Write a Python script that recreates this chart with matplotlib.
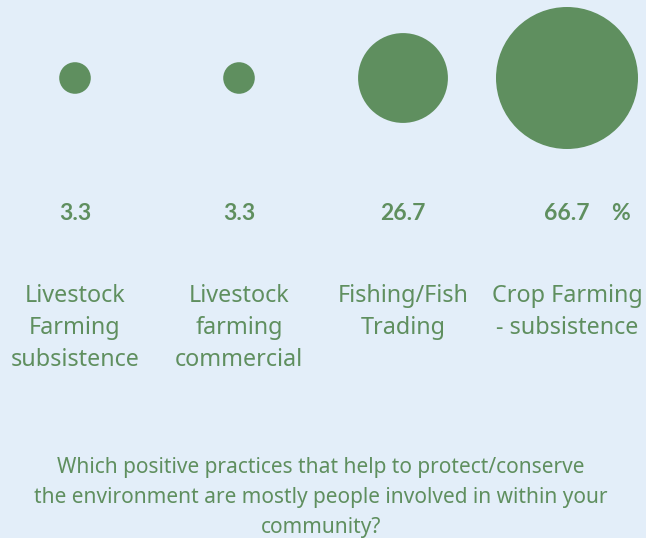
import numpy as np
import matplotlib
matplotlib.use("Agg")
from matplotlib import pyplot as plt
from matplotlib.patches import Circle

# Данные
categories = ["Livestock\nFarming\nsubsistence", "Livestock\nfarming\ncommercial",
              "Fishing/Fish\nTrading", "Crop Farming\n- subsistence"]
values = [3.3, 3.3, 26.7, 66.7]
value_labels = ["3.3", "3.3", "26.7", "66.7"]
title = ("Which positive practices that help to protect/conserve\n"
         "the environment are mostly people involved in within your\n"
         "community?")

bg = "#e3eef9"
green = "#5f8f5f"
plt.rcParams['font.family'] = ['Noto Sans', 'DejaVu Sans']

W, H = 646, 538
fig = plt.figure(figsize=(W / 100, H / 100), dpi=100, facecolor=bg)
ax = fig.add_axes([0, 0, 1, 1])
ax.set_xlim(0, W)
ax.set_ylim(H, 0)
ax.set_aspect('equal')
ax.axis('off')

val_font = dict(family=['Lato', 'DejaVu Sans'], fontweight='bold',
                fontsize=16.5, color=green)

# Круги: площадь пропорциональна значению
xs = 75 + 164 * np.arange(len(values))
r_max = 71
for x, v, lab, cat in zip(xs, values, value_labels, categories):
    r = r_max * np.sqrt(v / max(values))
    ax.add_patch(Circle((x, 78), r, color=green, lw=0))
    ax.text(x, 213, lab, ha='center', va='center', **val_font)
    ax.text(x, 284.5, cat, ha='center', va='top', fontsize=16.8,
            color=green, linespacing=1.44)

ax.text(621, 213, "%", ha='center', va='center', **val_font)

ax.text(321, 457, title, ha='center', va='top', fontsize=15,
        color=green, linespacing=1.55)

fig.savefig("out.png", dpi=100, facecolor=bg)
